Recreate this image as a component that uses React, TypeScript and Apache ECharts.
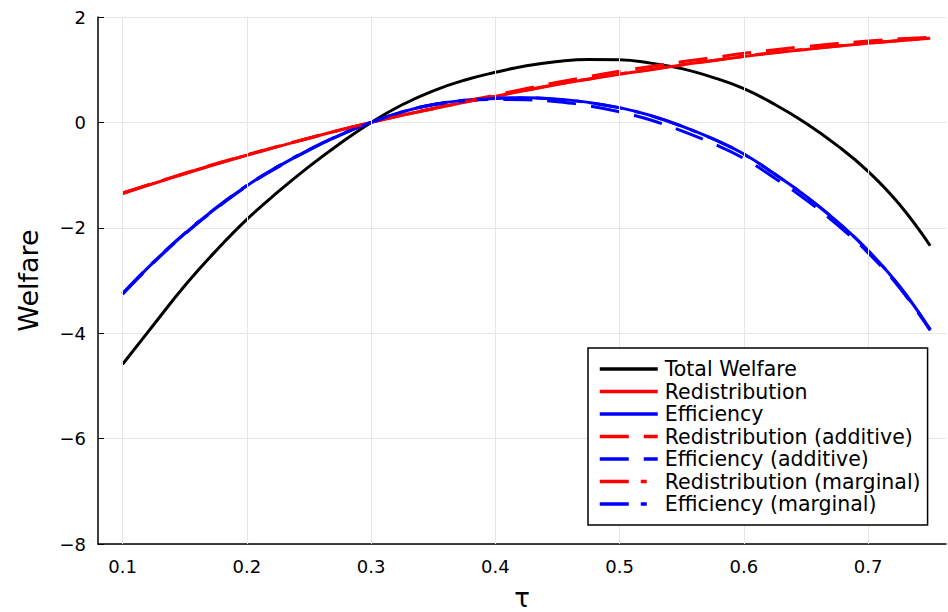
import React, { useEffect, useRef } from "react";
import * as echarts from "echarts";

// Tax rate grid
const tau = [
  0.1, 0.125, 0.15, 0.175, 0.2, 0.225, 0.25, 0.275, 0.3, 0.325, 0.35, 0.375, 0.4, 0.425,
  0.45, 0.475, 0.5, 0.525, 0.55, 0.575, 0.6, 0.625, 0.65, 0.675, 0.7, 0.725, 0.75,
];

// Welfare components
const totalWelfare = [
  -4.59, -3.84, -3.1, -2.44, -1.84, -1.32, -0.84, -0.4, 0.0, 0.335, 0.6, 0.8, 0.95, 1.075,
  1.155, 1.195, 1.19, 1.125, 1.02, 0.855, 0.64, 0.34, -0.015, -0.435, -0.93, -1.55, -2.34,
];
const redistribution = [
  -1.35, -1.16, -0.975, -0.795, -0.625, -0.46, -0.3, -0.145, 0.0, 0.135, 0.26, 0.38, 0.495, 0.61,
  0.72, 0.82, 0.915, 1.0, 1.09, 1.17, 1.25, 1.32, 1.385, 1.445, 1.5, 1.55, 1.595,
];
const efficiency = [
  -3.25, -2.65, -2.11, -1.63, -1.2, -0.84, -0.52, -0.24, 0.0, 0.2, 0.34, 0.42, 0.46, 0.47,
  0.44, 0.38, 0.28, 0.13, -0.07, -0.31, -0.6, -0.98, -1.4, -1.88, -2.43, -3.1, -3.93,
];
const redistributionAdditive = [
  -1.34, -1.15, -0.965, -0.785, -0.615, -0.455, -0.295, -0.145, 0.0, 0.14, 0.27, 0.4, 0.52, 0.645,
  0.76, 0.87, 0.97, 1.06, 1.15, 1.23, 1.31, 1.38, 1.44, 1.495, 1.545, 1.585, 1.615,
];
const efficiencyAdditive = [
  -3.26, -2.66, -2.12, -1.64, -1.21, -0.85, -0.525, -0.24, 0.0, 0.2, 0.335, 0.405, 0.435, 0.43,
  0.39, 0.315, 0.2, 0.045, -0.16, -0.4, -0.685, -1.06, -1.47, -1.94, -2.475, -3.13, -3.945,
];
const redistributionMarginal = [
  -1.345, -1.155, -0.97, -0.79, -0.62, -0.455, -0.3, -0.145, 0.0, 0.135, 0.26, 0.385, 0.5, 0.615,
  0.725, 0.825, 0.92, 1.005, 1.095, 1.175, 1.255, 1.325, 1.39, 1.45, 1.505, 1.555, 1.6,
];
const efficiencyMarginal = [
  -3.245, -2.645, -2.105, -1.625, -1.195, -0.835, -0.515, -0.235, 0.0, 0.2, 0.34, 0.42, 0.455, 0.465,
  0.435, 0.375, 0.275, 0.125, -0.075, -0.315, -0.605, -0.985, -1.405, -1.885, -2.435, -3.105, -3.935,
];

// Axis ticks
const xTicks = [0.1, 0.2, 0.3, 0.4, 0.5, 0.6, 0.7];
const yTicks = [-8, -6, -4, -2, 0, 2];

const FONT = "DejaVu Sans";
const DASH: number[] = [29, 15];
const DASH_DOT: number[] = [29, 12, 6, 12];

const pairs = (ys: number[]) => tau.map((t, i) => [t, ys[i]]);

const curve = (name: string, ys: number[], color: string, type: any) => ({
  name,
  type: "line",
  data: pairs(ys),
  smooth: 0.45,
  symbol: "none",
  showSymbol: false,
  lineStyle: { color, width: 3, type, cap: "butt" },
  itemStyle: { color },
  emphasis: { disabled: true },
});

const fmtMinus = (v: number) => (v < 0 ? "\u2212" + String(Math.abs(v)) : String(v));

export default function App() {
  const ref = useRef<HTMLDivElement>(null);

  useEffect(() => {
    if (!ref.current) return;
    const chart = echarts.init(ref.current, null, { renderer: "svg" });
    const names = [
      "Total Welfare",
      "Redistribution",
      "Efficiency",
      "Redistribution (additive)",
      "Efficiency (additive)",
      "Redistribution (marginal)",
      "Efficiency (marginal)",
    ];
    chart.setOption({
      animation: false,
      backgroundColor: "#ffffff",
      textStyle: { fontFamily: FONT },
      grid: {
        left: 98,
        right: 2,
        top: 17,
        bottom: 68,
        containLabel: false,
        outerBoundsMode: "none",
      },
      legend: {
        data: names,
        orient: "vertical",
        left: 588,
        top: 348,
        z: 10,
        padding: [10, 7, 10, 10],
        itemWidth: 58,
        itemHeight: 14,
        itemGap: 0.5,
        borderColor: "#000000",
        borderWidth: 1.5,
        backgroundColor: "#ffffff",
        selectedMode: false,
        itemStyle: { opacity: 0 },
        lineStyle: { width: 3.5 },
        textStyle: { fontSize: 20.5, fontFamily: FONT, color: "#000000", lineHeight: 22, padding: [0, 0, 0, 2] },
      },
      xAxis: {
        type: "value",
        min: 0.0802,
        max: 0.7627,
        name: "τ",
        nameLocation: "middle",
        nameGap: 41,
        nameTextStyle: { fontSize: 26, fontFamily: FONT, color: "#000000" },
        axisLine: { onZero: false, lineStyle: { color: "#000000", width: 1.5 } },
        axisTick: { inside: true, length: 6, customValues: xTicks, lineStyle: { color: "#000000", width: 1 } },
        axisLabel: {
          customValues: xTicks,
          fontSize: 18,
          fontFamily: FONT,
          color: "#000000",
          margin: 13,
          formatter: (v: number) => v.toFixed(1),
        },
        splitLine: { show: false },
      },
      yAxis: {
        type: "value",
        min: yTicks[0],
        max: yTicks[yTicks.length - 1],
        interval: 2,
        name: "Welfare",
        nameLocation: "middle",
        nameGap: 56,
        nameTextStyle: { fontSize: 27, fontFamily: FONT, color: "#000000" },
        axisLine: { show: true, onZero: false, lineStyle: { color: "#000000", width: 1.5 } },
        axisTick: { show: true, inside: true, length: 6, lineStyle: { color: "#000000", width: 1 } },
        axisLabel: { fontSize: 18, fontFamily: FONT, color: "#000000", margin: 12, formatter: fmtMinus },
        splitLine: { show: true, lineStyle: { color: "#e6e6e6", width: 1 } },
      },
      series: [
        {
          name: "grid",
          type: "line",
          data: [],
          silent: true,
          z: 0,
          markLine: {
            silent: true,
            symbol: ["none", "none"],
            label: { show: false },
            lineStyle: { color: "#e6e6e6", width: 1, type: "solid" },
            emphasis: { disabled: true },
            data: xTicks.map((v) => ({ xAxis: v })),
          },
        },
        curve("Total Welfare", totalWelfare, "#000000", "solid"),
        curve("Redistribution", redistribution, "#ff0000", "solid"),
        curve("Efficiency", efficiency, "#0000ff", "solid"),
        curve("Redistribution (additive)", redistributionAdditive, "#ff0000", DASH),
        curve("Efficiency (additive)", efficiencyAdditive, "#0000ff", DASH),
        curve("Redistribution (marginal)", redistributionMarginal, "#ff0000", DASH_DOT),
        curve("Efficiency (marginal)", efficiencyMarginal, "#0000ff", DASH_DOT),
      ],
    });
    return () => chart.dispose();
  }, []);

  return (
    <div
      ref={ref}
      style={{ position: "absolute", left: 0, top: 0, width: 948, height: 612, background: "#ffffff" }}
    />
  );
}
